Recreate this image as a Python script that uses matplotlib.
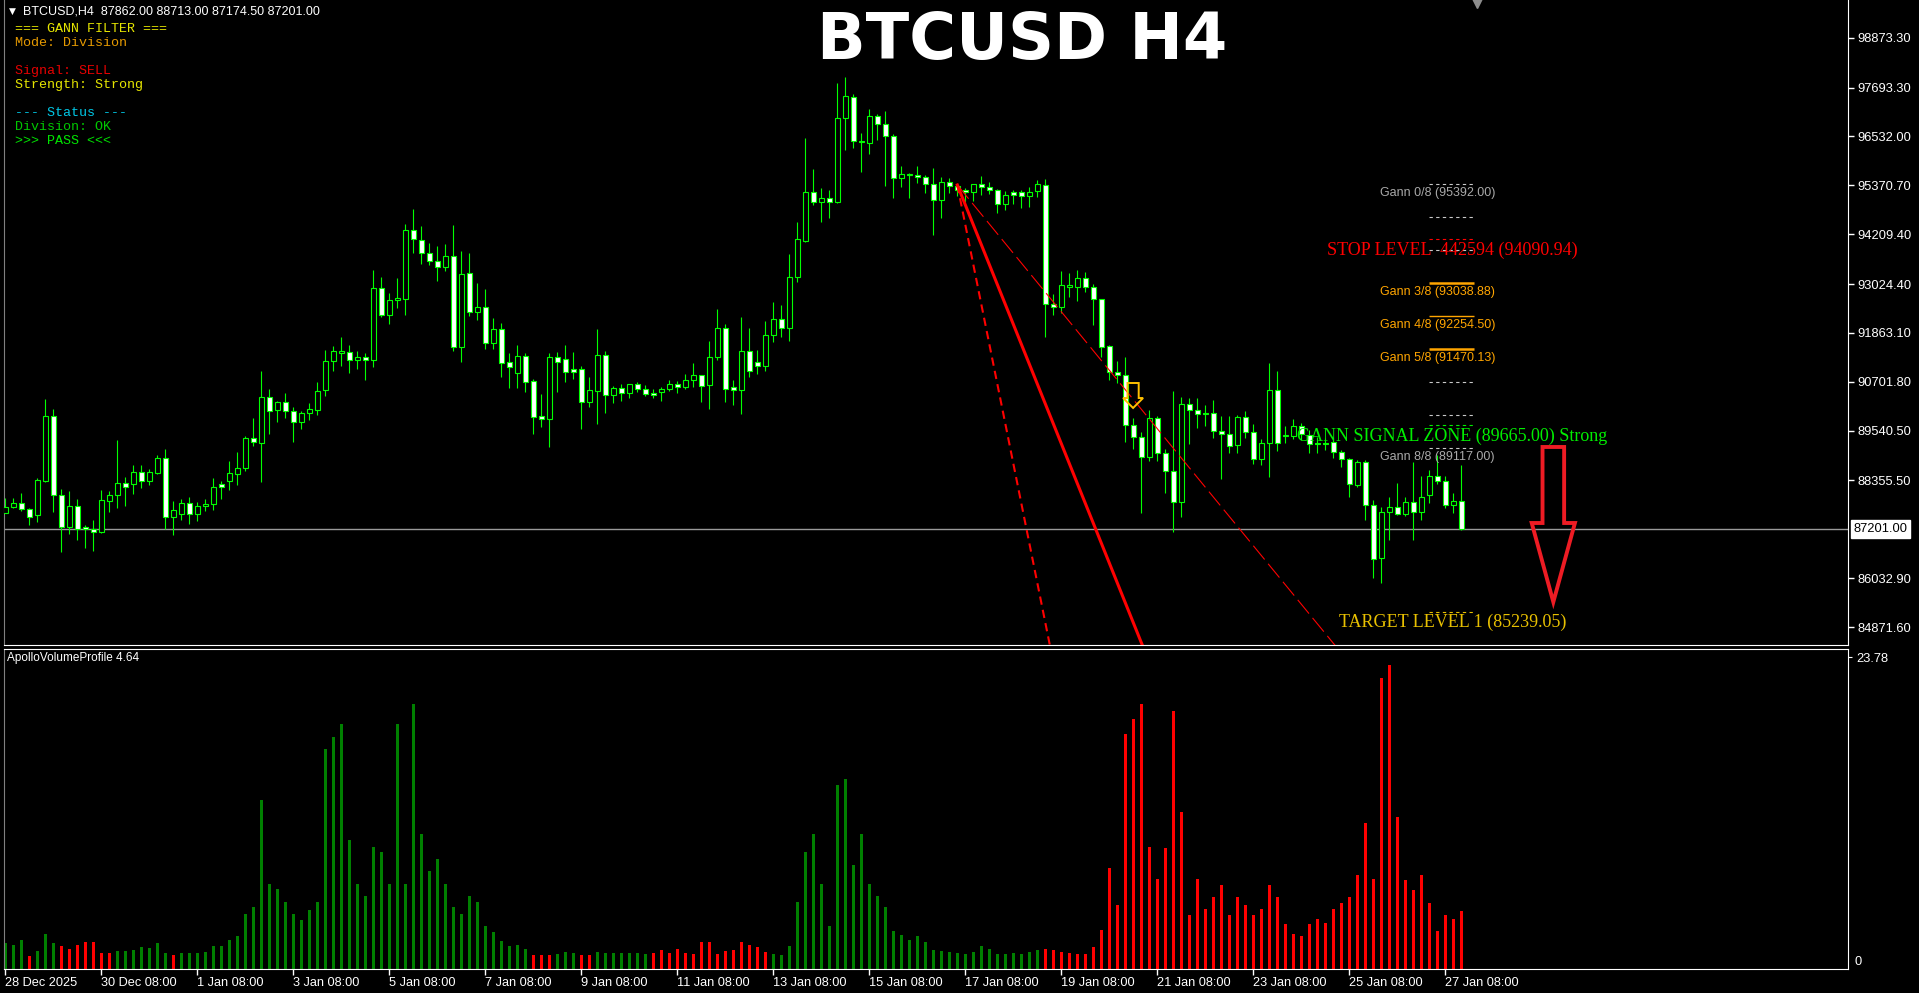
import numpy as np
import matplotlib
matplotlib.use("Agg")
import matplotlib.pyplot as plt
from matplotlib.patches import Polygon

plt.rcParams['font.family'] = ['Liberation Sans', 'DejaVu Sans']

W, H = 1919, 993

# BTCUSD H4 candles (28 Dec 08:00 .. 27 Jan 16:00)
opens = [87590, 87732, 87828, 87669, 87542, 88350, 89880, 88002, 87257, 87740,
         87241, 87193, 87138, 87875, 88002, 88287, 88263, 88549, 88334, 88541,
         88881, 87479, 87550, 87812, 87550, 87740, 87788, 88263, 88350, 88517,
         88644, 89357, 89254, 90331, 90038, 90212, 89998, 89753, 89951, 90038,
         90513, 91187, 91393, 91401, 91211, 91282, 91211, 92922, 92296, 92637,
         92676, 94301, 94063, 93754, 93564, 93421, 93683, 91520, 93279, 92367,
         92471, 91615, 91948, 91163, 90917, 91306, 90711, 89880, 89824, 91282,
         91235, 90997, 90997, 90228, 90490, 91329, 90394, 90545, 90442, 90640,
         90521, 90426, 90450, 90521, 90640, 90585, 90735, 90854, 90632, 91282,
         91971, 90569, 90497, 91424, 91163, 91068, 91806, 92186, 91972, 93184,
         94056, 95205, 94967, 95062, 94967, 96963, 97463, 96417, 96369, 97011,
         96821, 96536, 95537, 95609, 95609, 95561, 95395, 95014, 95442, 95347,
         95252, 95205, 95395, 95323, 95252, 94919, 95205, 95205, 95110, 95228,
         95371, 92542, 92471, 92962, 92962, 93160, 92947, 92661, 91544, 90926,
         90862, 89666, 89396, 88905, 89832, 89000, 88572, 87851, 90165, 90022,
         89951, 89951, 89531, 89452, 89190, 89856, 89499, 88858, 89238, 90498,
         89412, 89420, 89658, 89436, 89238, 89238, 89278, 89024, 88866, 88255,
         88786, 87772, 86504, 87598, 87717, 87550, 87851, 87598, 88002, 88454,
         88335, 87764, 87862.0]
highs = [87931, 87931, 88050, 87693, 88406, 90292, 90054, 88152, 88105, 87914,
         87297, 87415, 88128, 88105, 89317, 88437, 88723, 88723, 88628, 88953,
         89103, 87867, 87914, 87962, 87843, 87907, 88414, 88342, 88818, 89032,
         89412, 89840, 90957, 90529, 90252, 90434, 90093, 90006, 90196, 90695,
         91456, 91551, 91765, 91575, 91432, 91385, 93358, 93183, 92803, 93160,
         94443, 94800, 94404, 93992, 93928, 93968, 94419, 93810, 93754, 93049,
         92898, 92209, 92090, 91377, 91575, 91377, 90759, 90402, 91377, 91401,
         91575, 91401, 91076, 90814, 91956, 91424, 90600, 90648, 90648, 90695,
         90616, 90529, 90585, 90743, 90719, 90886, 91147, 90854, 91670, 92431,
         92074, 90743, 92241, 91979, 91456, 92146, 92598, 92526, 93739, 94499,
         96496, 95759, 95307, 95260, 97803, 97946, 97542, 96615, 97185, 97066,
         97138, 96591, 95830, 95672, 95830, 95617, 95783, 95569, 95545, 95379,
         95307, 95403, 95593, 95450, 95276, 95236, 95260, 95260, 95331, 95498,
         95522, 92788, 93335, 93279, 93351, 93311, 93026, 92661, 91584, 91203,
         91282, 89840, 89507, 90030, 89888, 89095, 90482, 90347, 90308, 90308,
         90141, 90260, 89888, 89888, 89903, 90014, 89697, 89333, 91147, 90957,
         89650, 89808, 89713, 89555, 89396, 89357, 89357, 89079, 88881, 88842,
         88842, 87891, 87733, 87970, 88287, 87970, 88802, 88461, 88604, 88961,
         88461, 88049, 88713.0]
lows = [87574, 87709, 87637, 87297, 87376, 88327, 87613, 86663, 87083, 86940,
        86750, 86686, 87114, 87613, 87709, 87748, 88033, 88184, 88247, 88509,
        87193, 87059, 87415, 87320, 87400, 87637, 87653, 87914, 88128, 88247,
        88588, 89182, 88327, 89460, 89753, 89848, 89277, 89586, 89800, 89919,
        90371, 90965, 91084, 90917, 91012, 90751, 91060, 92248, 92074, 92454,
        92296, 93762, 93500, 93477, 93104, 93342, 91440, 91179, 92272, 92177,
        91488, 91488, 90823, 90561, 90561, 90466, 89460, 89634, 89158, 90466,
        90703, 90767, 89586, 90109, 89705, 89967, 90204, 90252, 90323, 90466,
        90371, 90323, 90252, 90490, 90442, 90537, 90569, 90228, 90054, 91227,
        90228, 90157, 89943, 90823, 90894, 90965, 91647, 91766, 91679, 93081,
        94032, 94911, 94499, 94602, 94943, 96219, 96266, 95696, 96124, 96456,
        95363, 95078, 95339, 95078, 95426, 95197, 94198, 94602, 95197, 95117,
        94983, 94999, 95149, 95173, 94721, 94793, 94935, 94840, 94864, 95102,
        91774, 92297, 92329, 92725, 92630, 92844, 92059, 91299, 90744, 90664,
        89278, 89103, 87590, 88826, 88826, 88065, 87122, 87479, 89222, 89594,
        89650, 89373, 88398, 89000, 89000, 89373, 88755, 88723, 88446, 89064,
        89238, 89341, 89317, 89000, 89000, 89079, 88881, 88683, 87954, 88208,
        87416, 86029, 85910, 86940, 87534, 87511, 86940, 87416, 87828, 88271,
        87709, 87590, 87174.5]
closes = [87732, 87812, 87669, 87479, 88366, 89880, 88002, 87257, 87740, 87209,
          87193, 87138, 87883, 88002, 88287, 88192, 88549, 88334, 88549, 88881,
          87479, 87645, 87812, 87550, 87740, 87788, 88192, 88192, 88525, 88644,
          89357, 89262, 90331, 89998, 90212, 89998, 89737, 89951, 90046, 90474,
          91187, 91424, 91424, 91211, 91282, 91211, 92922, 92296, 92637, 92684,
          94301, 94102, 93754, 93564, 93421, 93683, 91520, 93255, 92367, 92471,
          91631, 91948, 91155, 91044, 91306, 90703, 89872, 89824, 91282, 91179,
          90941, 90941, 90228, 90497, 91329, 90394, 90545, 90442, 90640, 90521,
          90418, 90379, 90521, 90640, 90585, 90735, 90854, 90608, 91282, 91971,
          90537, 90497, 91424, 90965, 91068, 91805, 92186, 91972, 93184, 94087,
          95205, 94967, 95062, 94967, 96963, 97486, 96417, 96393, 97011, 96821,
          96551, 95537, 95632, 95640, 95561, 95395, 95014, 95442, 95347, 95252,
          95205, 95395, 95323, 95252, 94919, 95133, 95133, 95110, 95205, 95395,
          92542, 92471, 92994, 92994, 93160, 92947, 92661, 91536, 90926, 90862,
          89666, 89381, 88905, 89832, 89000, 88572, 87836, 90165, 90022, 89935,
          89927, 89531, 89460, 89167, 89856, 89499, 88858, 89238, 90498, 89238,
          89444, 89658, 89460, 89222, 89214, 89214, 89040, 88866, 88271, 88786,
          87772, 86481, 87598, 87717, 87550, 87851, 87598, 87954, 88454, 88335,
          87764, 87859, 87201.0]

# ApolloVolumeProfile 4.64 histogram
volumes = [1.98, 1.85, 2.23, 1.02, 1.40, 2.69, 2.01, 1.73, 1.55, 1.81,
           2.08, 2.08, 1.24, 1.20, 1.35, 1.35, 1.47, 1.68, 1.60, 2.01,
           1.20, 1.04, 1.20, 1.20, 1.20, 1.32, 1.78, 1.73, 2.23, 2.49,
           4.2, 4.7, 12.9, 6.5, 6.1, 5.1, 4.2, 3.7, 4.5, 5.1,
           16.8, 17.7, 18.7, 9.8, 6.5, 5.6, 9.3, 8.9, 6.5, 18.7,
           6.5, 20.2, 10.3, 7.5, 8.4, 6.5, 4.7, 4.2, 5.6, 5.1,
           3.3, 2.8, 2.1, 1.78, 1.86, 1.55,
           1.07, 1.07, 1.07, 1.14, 1.30, 1.22, 1.07, 1.07, 1.30, 1.22,
           1.22, 1.22, 1.22, 1.22, 1.14, 1.22, 1.45, 1.22, 1.53, 1.22,
           1.14, 2.06, 2.06, 1.14, 1.37, 1.45, 2.06, 1.83, 1.68, 1.30,
           1.14, 1.07, 1.75,
           5.1, 8.9, 10.3, 6.5, 3.3, 14.0, 14.5, 7.9, 10.3, 6.5, 5.6, 4.7,
           2.9, 2.6, 2.2, 2.5, 2.06, 1.45, 1.37, 1.30, 1.22,
           1.14, 1.30, 1.75, 1.53, 1.14, 1.14, 1.22, 1.14, 1.30, 1.45,
           1.53, 1.45, 1.30, 1.22, 1.14, 1.14, 1.68, 2.97,
           7.7, 4.9, 17.9, 19.1, 20.2, 9.3, 6.9, 9.2, 19.7, 12.0,
           4.1, 6.9, 4.6, 5.5, 6.4, 4.1, 5.5, 4.9, 4.1, 4.6,
           6.4, 5.5, 3.4, 2.7, 2.5, 3.4, 3.8, 3.5, 4.6, 5.0,
           5.5, 7.2, 11.1, 6.9, 22.2, 23.2, 11.6, 6.8, 6.0, 7.2,
           5.0, 2.9, 4.1, 3.8, 4.4]
vol_side = ("gggrgggrrrrrrrgggggggr"
            "gggggggggggggggggggggggggggggggggggggggggggg"
            "rrrgggrrgggggggrrrrrrrrrrrrrrr"
            "gggggggggggggggggggggggggggggggggg"
            "rrrrrrrrrrrrrrrrrrrrrrrrrrrrrrrrrrrrrrrrrrrrrrrrrrrrr")
vol_max_label = 23.78

date_ticks = [0, 12, 24, 36, 48, 60, 72, 84, 96, 108, 120, 132, 144, 156, 168, 180]
date_labels = ['28 Dec 2025', '30 Dec 08:00', '1 Jan 08:00', '3 Jan 08:00', '5 Jan 08:00',
               '7 Jan 08:00', '9 Jan 08:00', '11 Jan 08:00', '13 Jan 08:00', '15 Jan 08:00',
               '17 Jan 08:00', '19 Jan 08:00', '21 Jan 08:00', '23 Jan 08:00', '25 Jan 08:00',
               '27 Jan 08:00']
price_ticks = [98873.30, 97693.30, 96532.00, 95370.70, 94209.40, 93024.40, 91863.10,
               90701.80, 89540.50, 88355.50, 86032.90, 84871.60]
last_price = 87201.00
header = 'BTCUSD,H4  87862.00 88713.00 87174.50 87201.00'

gann_levels = [95392.00, 94607.63, 93823.25, 93038.88, 92254.50, 91470.13, 90685.75, 89901.38, 89117.00]
gann_shown = [0, 3, 4, 5, 8]
stop_level = 94090.94
signal_zone = 89665.00
target_level = 85239.05

info_lines = ['=== GANN FILTER ===', 'Mode: Division', '', 'Signal: SELL', 'Strength: Strong', '',
              '--- Status ---', 'Division: OK', '>>> PASS <<<']
info_colors = ['#e6e600', '#e69a00', 'k', '#e60000', '#e6e600', 'k', '#00c8e6', '#00c800', '#00e600']

# fan drawn from the 17 Jan high
fan_bar, fan_price, fan_slope = 119, 95379, 473.0

fig = plt.figure(figsize=(W / 100, H / 100), dpi=100, facecolor='black')


def px_rect(x0, y0, x1, y1):
    return [x0 / W, 1 - y1 / H, (x1 - x0) / W, (y1 - y0) / H]


ax = fig.add_axes(px_rect(4, 0, 1848, 645))
ax2 = fig.add_axes(px_rect(4, 649, 1848, 969))
xlim = ((4 - 5.33) / 8, (1848 - 5.33) / 8)
for a in (ax, ax2):
    a.set_facecolor('black')
    a.set_xlim(*xlim)
    a.spines['top'].set_visible(False)
    a.spines['left'].set_color('#808080')
    a.spines['right'].set_color('white')
    a.spines['bottom'].set_color('white')
ax2.spines['top'].set_visible(True)
ax2.spines['top'].set_color('white')

ax.set_ylim(84444, 99776)
ax2.set_ylim(0, 24.4)

# candles
o = np.array(opens)
c = np.array(closes)
x = np.arange(len(c))
bull = c >= o
ax.vlines(x, lows, highs, color='#00ff00', lw=0.8, zorder=2)
ax.bar(x[bull], (c - o)[bull], bottom=o[bull], width=0.6, facecolor='black',
       edgecolor='#00ff00', lw=0.8, zorder=3)
ax.bar(x[~bull], (o - c)[~bull], bottom=c[~bull], width=0.6, facecolor='white',
       edgecolor='#00ff00', lw=0.8, zorder=3)

ax.axhline(last_price, color='#9a9a9a', lw=1, zorder=1)

# gann fan
for mult, style, lw in [(2, (0, (4, 2.5)), 1.5), (1, '-', 2.2), (0.49, (0, (16, 5)), 0.8)]:
    x_end = fan_bar + (fan_price - 70000) / (fan_slope * mult)
    ax.plot([fan_bar, x_end], [fan_price, 70000], color='#ff0000', lw=lw,
            linestyle=style, zorder=4)

# gann levels
seg0, seg1 = 178.0, 183.6
for k, lvl in enumerate(gann_levels):
    if k in (3, 4, 5):
        ax.hlines(lvl, seg0, seg1, color='#ffa500', lw=1.0 if k == 4 else 1.8, zorder=5)
    else:
        ax.hlines(lvl, seg0, seg1, color='#c8c8c8', lw=0.8, linestyles=(0, (3, 3)), zorder=5)
    if k in gann_shown:
        col = '#ffa500' if k in (3, 4, 5) else '#a9a9a9'
        ax.annotate(f'Gann {k}/8 ({lvl:.2f})', xy=(179.0, lvl), xytext=(0, -2),
                    textcoords='offset points', ha='center', va='top', color=col,
                    fontsize=9, zorder=6)

serif = ['Liberation Serif', 'DejaVu Serif']
for lvl, col, txt in [(stop_level, '#ff0000', f'STOP LEVEL  442594 ({stop_level:.2f})'),
                      (signal_zone, '#00ee00', f'GANN SIGNAL ZONE ({signal_zone:.2f}) Strong'),
                      (target_level, '#e8c000', f'TARGET LEVEL 1 ({target_level:.2f})')]:
    ax.hlines(lvl, seg0, seg1, color=col, lw=0.8, linestyles=(0, (3, 3)), zorder=5)
    ax.annotate(txt, xy=(180.9, lvl), xytext=(0, -1.5), textcoords='offset points',
                ha='center', va='top', color=col, fontsize=13, family=serif, zorder=6)


def hollow_arrow(a, xc, top, head, tip, shaft_w, head_w, color, lw):
    pts = [(xc - shaft_w, top), (xc + shaft_w, top), (xc + shaft_w, head),
           (xc + head_w, head), (xc, tip), (xc - head_w, head), (xc - shaft_w, head)]
    a.add_patch(Polygon(pts, closed=True, fill=False, edgecolor=color, lw=lw, zorder=7))


hollow_arrow(ax, 140.97, 90672, 90315, 90078, 0.7, 1.25, '#ffc000', 1.4)
hollow_arrow(ax, 193.5, 89151, 87344, 85466, 1.35, 2.7, '#ee1c24', 2.8)

# right price axis
ax.yaxis.tick_right()
ax.set_yticks(price_ticks)
ax.set_yticklabels([f'{v:.2f}' for v in price_ticks])
ax.tick_params(axis='y', colors='white', length=4, width=1, pad=3, labelsize=9.3)
ax.set_xticks([])
ax.annotate(f'{last_price:.2f}', xy=(1, last_price), xycoords=('axes fraction', 'data'),
            xytext=(4, 0), textcoords='offset points', ha='left', va='center',
            color='black', fontsize=9.3,
            bbox=dict(boxstyle='square,pad=0.2', fc='white', ec='white'),
            annotation_clip=False)
ax.plot([184], [99705], marker='v', ms=7, color='#8c8c8c', clip_on=False, zorder=8)

# volume panel
vcol = ['#ff0000' if s == 'r' else '#008000' for s in vol_side]
ax2.bar(np.arange(len(volumes)), volumes, width=0.45, color=vcol)
ax2.yaxis.tick_right()
ax2.set_yticks([vol_max_label])
ax2.set_yticklabels([f'{vol_max_label:.2f}'])
ax2.tick_params(axis='y', colors='white', length=3, pad=3, labelsize=9.3)
ax2.annotate('0', xy=(1, 0), xycoords='axes fraction', xytext=(5, 1),
             textcoords='offset points', ha='left', va='bottom', color='white',
             fontsize=9.3, annotation_clip=False)
ax2.set_xticks(date_ticks)
ax2.set_xticklabels(date_labels, ha='left')
ax2.tick_params(axis='x', colors='white', length=4, width=1, pad=2, labelsize=9.2)
ax2.text(0.0016, 0.972, 'ApolloVolumeProfile 4.64', transform=ax2.transAxes,
         ha='left', va='center', color='white', fontsize=8.5)

# header, title, info panel
fig.text(9 / W, 1 - 11 / H, '\u25bc', color='white', fontsize=6.5, va='center',
         family=['DejaVu Sans'])
fig.text(23 / W, 1 - 11 / H, header, color='white', fontsize=9, va='center')
fig.text(1022 / W, 1 - 59 / H, 'BTCUSD H4', color='white', fontsize=46, weight='bold',
         ha='center', va='baseline', family=['DejaVu Sans'])
for row, (t, col) in enumerate(zip(info_lines, info_colors)):
    if t:
        fig.text(15 / W, 1 - (29.3 + 14 * row) / H, t, color=col, fontsize=9.6,
                 family=['Liberation Mono', 'DejaVu Sans Mono'], va='center')

fig.savefig('out.png', dpi=100, facecolor='black')
